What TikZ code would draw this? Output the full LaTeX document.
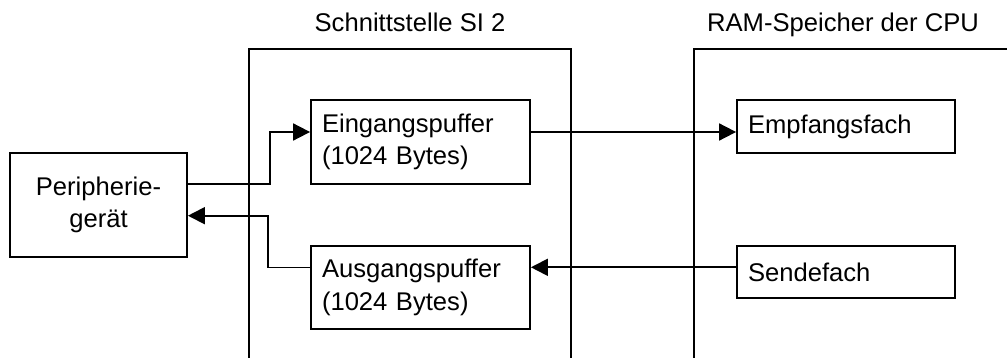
\documentclass[tikz,border=0pt]{standalone}
\usepackage{fontspec}
\setmainfont{Liberation Sans}
\usetikzlibrary{arrows.meta}
\definecolor{ink}{HTML}{000000}

\begin{document}
\begin{tikzpicture}[x=1pt,y=1pt,font=\fontsize{25.6}{32.3}\selectfont,text=ink,
    line width=1.8pt,line cap=butt,line join=miter,
    >={Triangle[length=17pt,width=17pt]},
    box/.style={draw=ink,inner sep=0pt,align=center},
    slot/.style={draw=ink,inner xsep=11pt,inner ysep=0pt,align=left,
                 text width=#1},
    flow/.style={draw=ink,->}]
  \useasboundingbox (0,0) rectangle (1007,-358);

  % outer frames, open at the bottom
  \draw[ink] (249,-358) |- (571,-49) -- (571,-358);
  \node[anchor=base] (silabel) at (410,-31.7) {Schnittstelle SI 2};
  \draw[ink] (694,-358) |- (1007,-49);
  \node[anchor=base] (ramlabel) at (843,-31.7) {RAM-Speicher der CPU};

  \node[box,minimum width=177,minimum height=104] (periph) at (98.5,-205)
    {Peripherie-\\gerät};

  \node[slot=197,minimum height=84] (eing) at (420.5,-142)
    {Eingangspuffer\\(1024 Bytes)};
  \node[slot=197,minimum height=83] (ausg) at (420.5,-287.5)
    {Ausgangspuffer\\(1024 Bytes)};

  \node[slot=196,minimum height=53] (empf) at (846,-126.5) {Empfangsfach};
  \node[slot=196,minimum height=52] (send) at (846,-272) {Sendefach};

  \draw[flow] ([yshift=21pt]periph.east) -- ++(82,0) |- ([yshift=10pt]eing.west);
  \draw[flow] ([yshift=10pt]eing.east) -- ([yshift=10pt]eing.east -| empf.west);
  \draw[flow] ([yshift=4.7pt]send.west) -- ([yshift=4.7pt]send.west -| ausg.east);
  \draw[flow] ([yshift=20pt]ausg.west) -- ++(-42,0) |- ([yshift=-10.7pt]periph.east);
\end{tikzpicture}
\end{document}
